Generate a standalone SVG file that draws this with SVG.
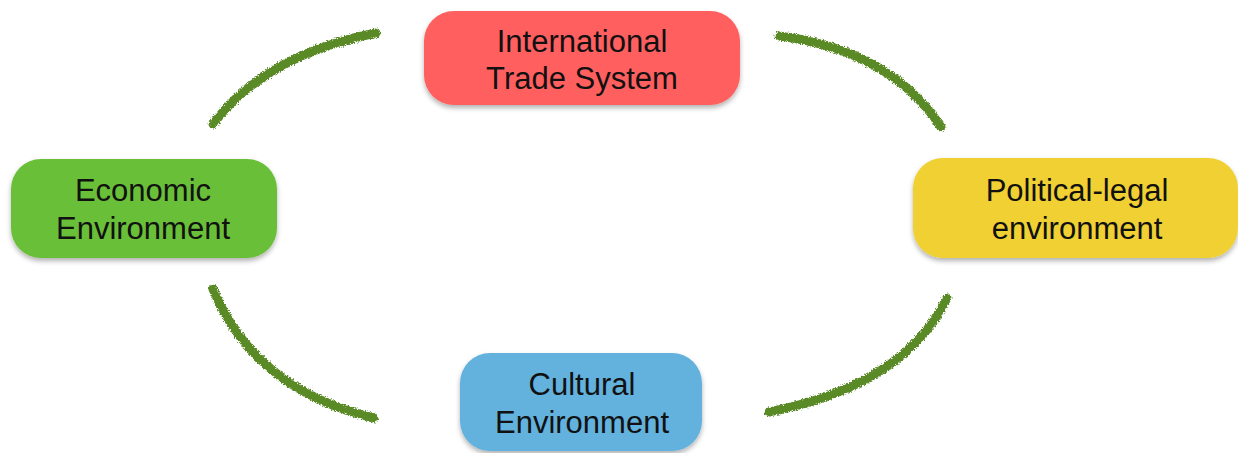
<svg xmlns="http://www.w3.org/2000/svg" width="1238" height="453" viewBox="0 0 1238 453">
<style>
.box{filter:url(#sh)}
.lbl{font-family:"Liberation Sans",Arial,sans-serif;font-size:31px;fill:#111;text-anchor:middle}
.con{fill:none;stroke:#5A8A28;stroke-width:9;stroke-linecap:round;filter:url(#rough)}
</style>
<defs>
<filter id="sh" x="-10%" y="-10%" width="120%" height="130%">
<feDropShadow dx="0" dy="3" stdDeviation="2.5" flood-color="#000" flood-opacity="0.3"/>
</filter>
<filter id="rough" x="-10%" y="-10%" width="120%" height="120%">
<feTurbulence type="fractalNoise" baseFrequency="0.7" numOctaves="2" seed="3" result="n"/>
<feDisplacementMap in="SourceGraphic" in2="n" scale="5" xChannelSelector="R" yChannelSelector="G"/>
</filter>
</defs>
<g id="connectors">
<path class="con" d="M213,124 Q265,55 376,33"/>
<path class="con" d="M779,36 Q890,50 941,127"/>
<path class="con" d="M213,289 Q255,390 374,418"/>
<path class="con" d="M769,412 Q905,385 947,298"/>
</g>
<g id="n-trade">
<rect class="box" x="424" y="11" width="316" height="94" rx="30" fill="#FF5E5E"/>
<text class="lbl" x="582" y="52">International</text>
<text class="lbl" x="582" y="89">Trade System</text>
</g>
<g id="n-economic">
<rect class="box" x="11" y="159" width="266" height="99" rx="30" fill="#6ABF38"/>
<text class="lbl" x="143" y="201">Economic</text>
<text class="lbl" x="143" y="239">Environment</text>
</g>
<g id="n-political">
<rect class="box" x="913" y="158" width="325" height="100" rx="30" fill="#F0D031"/>
<text class="lbl" x="1077" y="201">Political-legal</text>
<text class="lbl" x="1077" y="239">environment</text>
</g>
<g id="n-cultural">
<rect class="box" x="460" y="353" width="242" height="98" rx="30" fill="#63B2DE"/>
<text class="lbl" x="582" y="395">Cultural</text>
<text class="lbl" x="582" y="433">Environment</text>
</g>
</svg>
